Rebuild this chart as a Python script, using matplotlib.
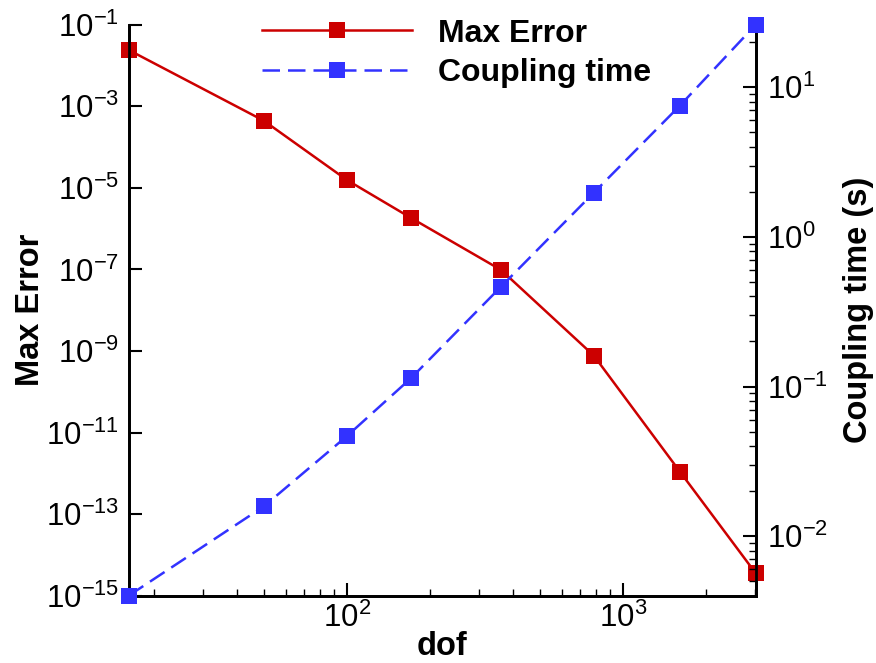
import numpy as np
import matplotlib
matplotlib.use('Agg')
import matplotlib.pyplot as plt
from matplotlib.ticker import LogLocator, NullLocator, NullFormatter

plt.rcParams['font.family'] = ['Liberation Sans', 'DejaVu Sans']
plt.rcParams['mathtext.fontset'] = 'custom'
plt.rcParams['mathtext.rm'] = 'Liberation Sans'
plt.rcParams['mathtext.it'] = 'Liberation Sans:italic'
plt.rcParams['mathtext.bf'] = 'Liberation Sans:bold'

# data
dof = [16.2, 50, 100, 171, 362, 785, 1610, 3030]
max_error = [0.024, 4.43e-4, 1.56e-5, 1.82e-6, 9.7e-8, 7.7e-10, 1.1e-12, 3.55e-15]
coupling_time = [0.0040, 0.0158, 0.0466, 0.114, 0.465, 1.975, 7.54, 26.2]

red = '#cc0000'
blue = '#3232ff'

fig = plt.figure(figsize=(8.76, 6.63), dpi=100)
ax = fig.add_axes([128.7/876, 1-595.7/663, (755.7-128.7)/876, (595.7-24.7)/663])
ax2 = ax.twinx()

l1, = ax.plot(dof, max_error, color=red, lw=1.8, marker='s', ms=11.5,
              markeredgewidth=0, label='Max Error', clip_on=False, zorder=3)
l2, = ax2.plot(dof, coupling_time, color=blue, lw=1.8, marker='s', ms=11.5,
               markeredgewidth=0, dashes=(7, 3.2), label='Coupling time',
               clip_on=False, zorder=3)

ax.set_xscale('log')
ax.set_yscale('log')
ax2.set_yscale('log')
ax.set_xlim(dof[0], dof[-1])
ax.set_ylim(1e-15, 1e-1)
ax2.set_ylim(coupling_time[0], coupling_time[-1])

ax.set_yticks(10.0 ** np.arange(-15, 0, 2))
ax.yaxis.set_minor_locator(NullLocator())
ax.xaxis.set_minor_locator(LogLocator(base=10, subs=np.arange(2, 10)))
ax.xaxis.set_minor_formatter(NullFormatter())
ax2.yaxis.set_minor_formatter(NullFormatter())

for a in (ax, ax2):
    for s in a.spines.values():
        s.set_linewidth(2.0)
    a.spines['top'].set_visible(False)

ax.tick_params(axis='both', which='major', direction='in', length=9.5, width=1.5,
               labelsize=22.5, pad=7)
ax.tick_params(axis='x', which='minor', direction='in', length=5, width=1.0)
ax.tick_params(axis='x', which='major', pad=5)
ax.tick_params(top=False, right=False)
ax2.tick_params(axis='y', which='major', direction='in', length=9.5, width=1.5,
                labelsize=22.5, pad=8)
ax2.tick_params(axis='y', which='minor', direction='in', length=5, width=1.0)

ax.set_xlabel('dof', fontsize=23.5, fontweight='bold', labelpad=-2)
ax.set_ylabel('Max Error', fontsize=23.5, fontweight='bold')
ax.yaxis.set_label_coords(-0.132, 0.5)
ax2.set_ylabel('Coupling time (s)', fontsize=23.5, fontweight='bold', labelpad=11)

fig.legend(handles=[l1, l2], loc='upper left', bbox_to_anchor=(262/876, 0.972),
           frameon=False, prop={'weight': 'bold', 'size': 23},
           handlelength=4.7, handletextpad=0.8, labelspacing=0.3,
           borderpad=0, borderaxespad=0)

fig.savefig('out.png', dpi=100)
